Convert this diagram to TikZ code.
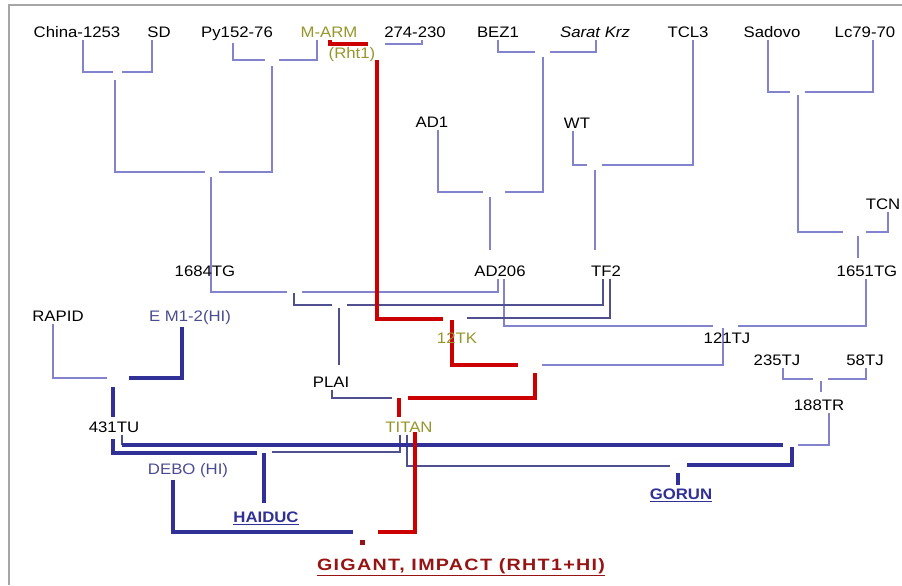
\documentclass[tikz,border=0pt]{standalone}
\usepackage{fontspec}
\setmainfont{Liberation Sans}[FakeStretch=1.1]
\newfontfamily\widebold{Liberation Sans}[FakeStretch=1.2,LetterSpace=8]
\usetikzlibrary{backgrounds}

\definecolor{treeline}{RGB}{130,130,205}
\definecolor{treedark}{RGB}{80,80,145}
\definecolor{hiline}{RGB}{48,48,150}
\definecolor{rhtline}{RGB}{205,0,0}
\definecolor{mutant}{RGB}{150,150,45}
\definecolor{hitext}{RGB}{75,75,145}
\definecolor{titlered}{RGB}{150,20,20}

\tikzset{
  lbl/.style={anchor=base, inner sep=2pt, font=\fontsize{13}{15}\selectfont},
  rht/.style={lbl, text=mutant},
  hi/.style={lbl, text=hitext},
  variety/.style={lbl, text=hiline, font=\fontsize{13}{15}\selectfont\bfseries}
}

\begin{document}
\begin{tikzpicture}[x=0.03cm, y=-0.03cm, line join=miter,
  thinl/.style={draw=treeline, line width=1pt},
  thind/.style={draw=treedark, line width=1pt},
  thickb/.style={draw=hiline, line width=4.2pt},
  thickr/.style={draw=rhtline, line width=4.2pt}]
\useasboundingbox (0,0) rectangle (902,585);
\draw[gray!70, line width=1pt] (9,585) -- (9,5) -- (902,5);

% parents
\node[lbl] (china) at (77,37) {China-1253};
\node[lbl] (sd) at (159,37) {SD};
\node[lbl] (py) at (237,37) {Py152-76};
\node[rht] (marm) at (329,37) {M-ARM};
\node[rht] (rht1) at (352,58) {(Rht1)};
\node[lbl] (n274) at (415,37) {274-230};
\node[lbl] (bez) at (498,37) {BEZ1};
\node[lbl] (sarat) at (595,37) {\itshape Sarat Krz};
\node[lbl] (tcl) at (688,37) {TCL3};
\node[lbl] (sadovo) at (772,37) {Sadovo};
\node[lbl] (lc) at (865,37) {Lc79-70};
\node[lbl] (ad1) at (432,127) {AD1};
\node[lbl] (wt) at (577,128) {WT};
\node[lbl] (tcn) at (883,209) {TCN};

% lines
\node[lbl] (tg1684) at (205,276) {1684TG};
\node[lbl] (ad206) at (500,276) {AD206};
\node[lbl] (tf2) at (606,276) {TF2};
\node[lbl] (tg1651) at (867,276) {1651TG};
\node[lbl] (rapid) at (58,321) {RAPID};
\node[hi] (em) at (190,321) {E M1-2(HI)};
\node[rht] (tk12) at (457,343) {12TK};
\node[lbl] (tj121) at (727,343) {121TJ};
\node[lbl] (tj235) at (777,365) {235TJ};
\node[lbl] (tj58) at (865,365) {58TJ};
\node[lbl] (plai) at (331,387) {PLAI};
\node[lbl] (tr188) at (819,410) {188TR};
\node[lbl] (tu431) at (114,432) {431TU};
\node[rht] (titan) at (409,432) {TITAN};
\node[hi] (debo) at (188,474) {DEBO (HI)};

% varieties
\node[variety] (haiduc) at (266,522) {\underline{HAIDUC}};
\node[variety] (gorun) at (681,499) {\underline{GORUN}};
\node[lbl, text=titlered, font=\fontsize{14}{16}\selectfont\widebold\bfseries] (gigant) at (461,570) {\underline{GIGANT, IMPACT (RHT1+HI)}};

\begin{scope}[on background layer]
% thin crosses
\draw[thinl] (83,0 |- china.south) |- (113,72);
\draw[thinl] (122,72) -| (152,0 |- sd.south);
\draw[thinl] (233,0 |- py.south) |- (265,60);
\draw[thinl] (279,60) -| (317,0 |- marm.south);
\draw[thinl] (115,80) |- (205,172);
\draw[thinl] (219,172) -| (272,66);
\draw[thinl] (211,177) |- (287,292);
\draw[thinl] (302,292) -| (498,0 |- ad206.south);
\draw[thinl] (385,44) -| (422,0 |- n274.south);
\draw[thinl] (498,0 |- bez.south) |- (535,52);
\draw[thinl] (550,52) -| (596,0 |- sarat.south);
\draw[thinl] (438,0 |- ad1.south) |- (483,192);
\draw[thinl] (505,192) -| (543,57);
\draw[thinl] (490,197) -- (490,250);
\draw[thinl] (573,0 |- wt.south) |- (587,165);
\draw[thinl] (602,165) -| (693,0 |- tcl.south);
\draw[thinl] (595,170) -- (595,250);
\draw[thinl] (768,0 |- sadovo.south) |- (790,92);
\draw[thinl] (805,92) -| (873,0 |- lc.south);
\draw[thinl] (798,95) |- (843,232);
\draw[thinl] (866,232) -| (888,0 |- tcn.south);
\draw[thinl] (858,236) -- (858,258);
\draw[thinl] (504,0 |- ad206.south) |- (713,326);
\draw[thinl] (738,326) -| (866,0 |- tg1651.south);
\draw[thinl] (723,328) |- (542,365);
\draw[thinl] (783,0 |- tj235.south) |- (813,379);
\draw[thinl] (828,379) -| (866,0 |- tj58.south);
\draw[thinl] (821,381) -- (821,392);
\draw[thinl] (829,0 |- tr188.south) |- (798,445);
\draw[thinl] (53,0 |- rapid.south) |- (107,378);
\draw[thind] (294,293) |- (332,305);
\draw[thind] (347,305) -| (603,0 |- tf2.south);
\draw[thind] (610,0 |- tf2.south) |- (467,318);
\draw[thind] (339,308) -- (339,365);
\draw[thind] (332,0 |- plai.south) |- (392,398);
\draw[thind] (400,0 |- titan.south) |- (272,452);
\draw[thind] (407,0 |- titan.south) |- (670,466);
\draw[thind] (122,0 |- tu431.south) -- (122,445);

% HI lines
\draw[thickb] (182,0 |- em.south) |- (129,378);
\draw[thickb] (113,387) -- (113,417);
\draw[thickb] (113,439) |- (257,453);
\draw[thickb] (264,453) -- (264,503);
\draw[thickb] (122,445) -- (783,445);
\draw[thickb] (792,447) |- (687,465);
\draw[thickb] (678,473) -- (678,485);
\draw[thickb] (173,0 |- debo.south) |- (353,532);

% Rht1 lines
\draw[thickr] (330,0 |- marm.south) |- (368,44);
\draw[thickr] (377,60) |- (443,319);
\draw[thickr] (452,320) |- (518,365);
\draw[thickr] (535,373) |- (408,398);
\draw[thickr] (399,398) -- (399,417);
\draw[thickr] (415,432) |- (378,532);
\fill[titlered] (359.5,539.5) rectangle ++(5,5);
\end{scope}
\end{tikzpicture}
\end{document}
